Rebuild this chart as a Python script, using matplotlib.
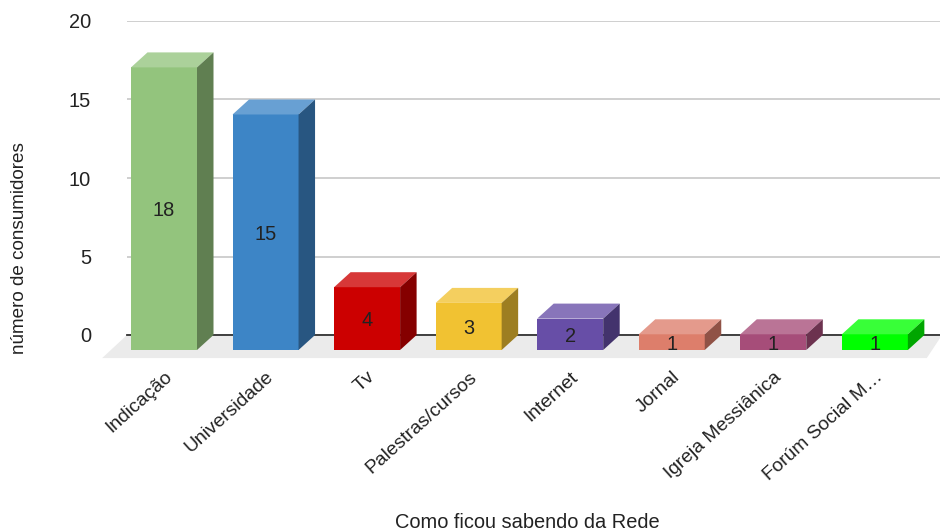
import numpy as np
import matplotlib
matplotlib.use("Agg")
import matplotlib.pyplot as plt
from matplotlib.colors import to_rgb
from matplotlib.patches import Polygon

plt.rcParams['font.family'] = ['Liberation Sans', 'DejaVu Sans']

categories = ["Indicação", "Universidade", "Tv", "Palestras/cursos", "Internet",
              "Jornal", "Igreja Messiânica", "Forúm Social M…"]
values = [18, 15, 4, 3, 2, 1, 1, 1]
colors = ["#93c47d", "#3d85c6", "#cc0000", "#f1c232", "#674ea7", "#dd7e6b", "#a64d79", "#00ff00"]
yticks = [0, 5, 10, 15, 20]

W, H = 940, 532
fig = plt.figure(figsize=(W / 100, H / 100), dpi=100)
# axes box in pixels: x 127-940, y=0 at 335 and y=20 at 21
ax = fig.add_axes([127 / W, 1 - 335 / H, 813 / W, 314 / H])

step = 101.55
ax.set_xlim((127 - 164) / step, (940 - 164) / step)
ax.set_ylim(0, 20)

# depth of the fake 3d boxes, in data units
dx = 16.5 / step
dy = 15 / (314 / 20)
width = 66 / step


def lighter(c, f=0.22):
    return tuple(v + (1 - v) * f for v in to_rgb(c))


def darker(c, f=0.65):
    return tuple(v * f for v in to_rgb(c))


x = np.arange(len(values))

# floor
x0, x1 = ax.get_xlim()
ax.add_patch(Polygon([(x0, 0), (x1 + 0.02, 0), (x1 - 0.13, -1.47), (x0 - 0.245, -1.47)],
                     facecolor="#ebebeb", edgecolor="none", clip_on=False, zorder=1))

ax.set_yticks(yticks)
ax.grid(axis="y", color="#cccccc", linewidth=1.3, zorder=1.5)
ax.set_axisbelow(True)
ax.axhline(0, color="#333333", linewidth=1.3, zorder=2, clip_on=False)

# front faces
ax.bar(x, values, width=width, bottom=-dy, color=colors, zorder=3, clip_on=False)

for xi, v, c in zip(x, values, colors):
    left, right = xi - width / 2, xi + width / 2
    top = v - dy
    ax.add_patch(Polygon([(left, top), (right, top), (right + dx, v), (left + dx, v)],
                         facecolor=lighter(c), edgecolor="none", zorder=3, clip_on=False))
    ax.add_patch(Polygon([(right, -dy), (right + dx, 0), (right + dx, v), (right, top)],
                         facecolor=darker(c), edgecolor="none", zorder=3, clip_on=False))
    ax.text(xi, top - v / 2, str(v), ha="center", va="center_baseline", fontsize=14.4,
            color="#222222", zorder=4)

for s in ax.spines.values():
    s.set_visible(False)

ax.tick_params(axis="y", length=0, pad=26, labelsize=14.4, labelcolor="#222222")
ax.tick_params(axis="x", length=0, pad=24, labelsize=13.9, labelcolor="#222222")
ax.set_xticks(x)
ax.set_xticklabels(categories, rotation=42, ha="right", va="top", rotation_mode="anchor")

fig.text(527 / W, 1 - 523 / H, "Como ficou sabendo da Rede", ha="center", va="center",
         fontsize=14.4, color="#222222")
fig.text(20 / W, 1 - 248 / H, "número de consumidores", ha="center", va="center",
         rotation=90, fontsize=13.6, color="#222222")

fig.savefig("out.png", dpi=100)
